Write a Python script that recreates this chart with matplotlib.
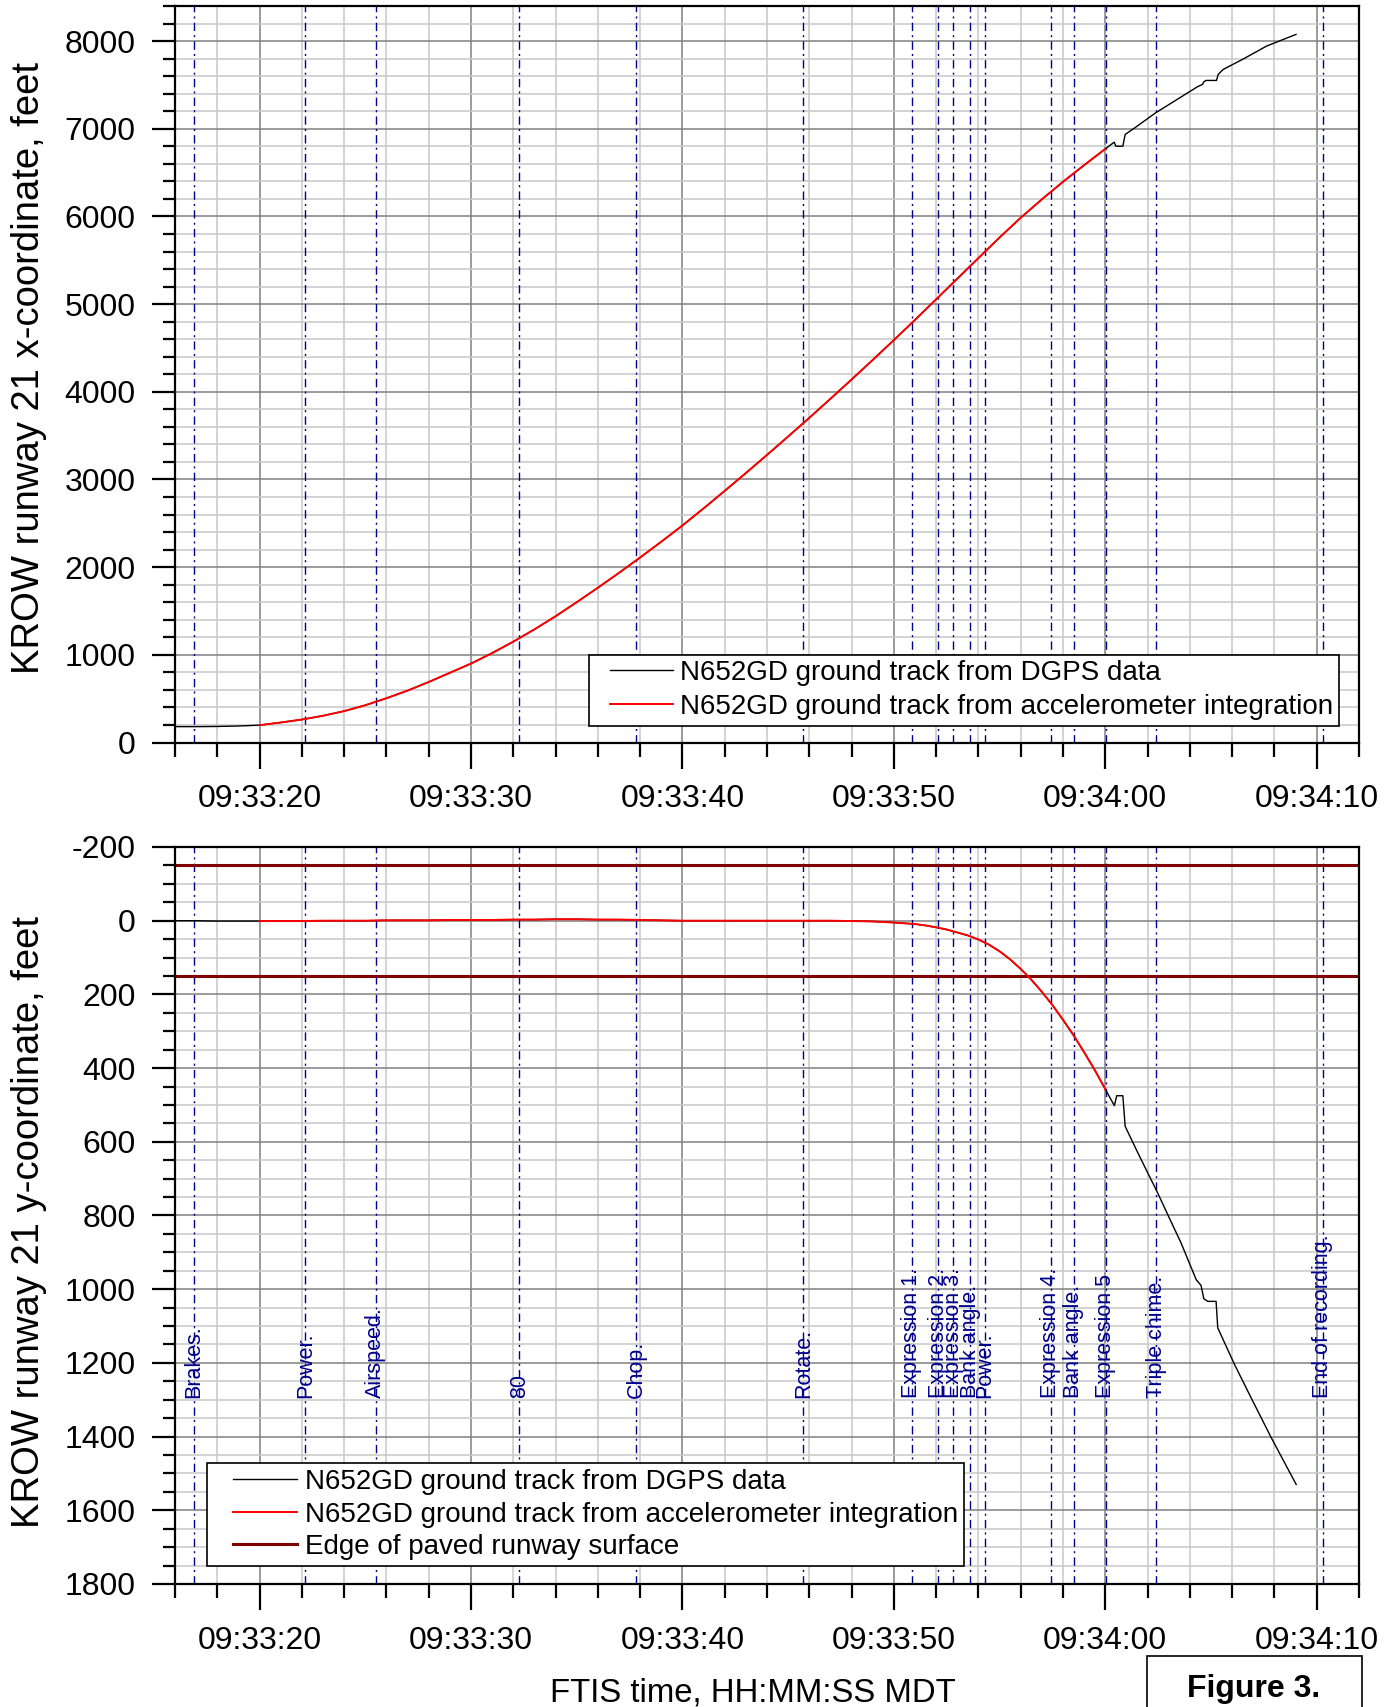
import matplotlib
matplotlib.use("Agg")
import matplotlib.pyplot as plt
from matplotlib.ticker import MultipleLocator, FuncFormatter
from matplotlib.legend_handler import HandlerLine2D
from matplotlib.lines import Line2D
from matplotlib.patches import Rectangle

plt.rcParams['font.family'] = ['Liberation Sans', 'DejaVu Sans']
plt.rcParams['axes.unicode_minus'] = False

# time is in seconds after 09:33:00 MDT
# accelerometer integration, x-coordinate, one sample per second 09:33:20 .. 09:34:00
t_acc_x = list(range(20, 61))
x_acc = [198, 228, 262, 305, 358, 425, 505, 592, 690, 795,
         900, 1020, 1150, 1290, 1440, 1600, 1765, 1935, 2110, 2290,
         2475, 2670, 2870, 3073, 3280, 3490, 3703, 3920, 4140, 4363,
         4590, 4820, 5055, 5290, 5525, 5760, 5985, 6195, 6395, 6585,
         6770]

# accelerometer integration, y-coordinate (denser where the track turns)
t_acc_y = list(range(20, 50)) + [50, 50.5, 51, 51.5, 52, 52.5, 53, 53.5, 54, 54.5,
                                 55, 55.5, 56, 56.5, 57, 57.5, 58, 58.5, 59, 59.5, 60]
y_acc = [1, 1, 1, 0, 0, 0, -1, -1, -1, -2,
         -2, -2, -3, -3, -4, -4, -3, -3, -2, -1,
         0, 0, 0, 0, 0, 0, 0, 0, 1, 2,
         5, 7, 9, 13, 18, 24, 32, 40, 51, 65,
         83, 105, 131, 160, 193, 229, 269, 311, 357, 405, 457]

# DGPS track: before the integration starts, and after it ends
t_gps_pre = [16, 17, 18, 19]
x_gps_pre = [181, 181, 183, 188]
y_gps_pre = [0, 0, 1, 1]

t_gps_x_post = [60.42, 60.5, 60.83, 60.94, 61.4, 62.39, 64.36, 64.6, 64.65,
                64.76, 65.26, 65.34, 65.58, 66.49, 67.63, 69.02]
x_gps_post = [6847, 6801, 6801, 6935, 7011, 7183, 7479, 7506, 7532,
              7551, 7551, 7620, 7677, 7791, 7943, 8076]

t_gps_y_post = [60.19, 60.43, 60.54, 60.83, 60.94, 61.54, 62.48, 63.03, 63.58,
                64.3, 64.53, 64.66, 64.85, 65.24, 65.32, 66.11, 66.9, 67.85, 69.03]
y_gps_post = [477, 502, 475, 475, 558, 630, 739, 807, 874,
              974, 990, 1026, 1033, 1033, 1105, 1204, 1295, 1403, 1530]

runway_edges = [-150, 150]

event_times = [16.88, 22.17, 25.49, 32.29, 37.8, 45.72, 50.84, 52.1, 52.8,
               53.61, 54.31, 57.43, 58.5, 60.03, 62.4, 70.29]
event_labels = ['Brakes.', 'Power.', 'Airspeed.', '80', 'Chop.', 'Rotate.',
                'Expression 1.', 'Expression 2.', 'Expression 3.', 'Bank angle.',
                'Power.', 'Expression 4.', 'Bank angle.', 'Expression 5',
                'Triple chime.', 'End of recording.']

t_gps_x = t_gps_pre + t_acc_x + t_gps_x_post
x_gps = x_gps_pre + x_acc + x_gps_post
t_gps_y = t_gps_pre + t_acc_y + t_gps_y_post
y_gps = y_gps_pre + y_acc + y_gps_post

W, H = 1393, 1707
fig = plt.figure(figsize=(W / 100, H / 100), dpi=100)
ax1 = fig.add_axes([175 / W, 1 - 742.5 / H, 1184 / W, 736.5 / H])
ax2 = fig.add_axes([175 / W, 1 - 1584 / H, 1184 / W, 737 / H])

navy = '#00008B'
dash_dot = (0, (6, 3, 1.5, 3))


def time_label(s, pos):
    s = int(round(s))
    return "09:%02d:%02d" % (33 + s // 60, s % 60)


for ax in (ax1, ax2):
    ax.set_xlim(16, 72)
    ax.xaxis.set_major_locator(MultipleLocator(10))
    ax.xaxis.set_minor_locator(MultipleLocator(2))
    ax.xaxis.set_major_formatter(FuncFormatter(time_label))
    ax.set_axisbelow(True)
    ax.grid(which='major', color='#808080', linewidth=1.1)
    ax.grid(which='minor', color='#c8c8c8', linewidth=1.1)
    ax.tick_params(axis='x', which='major', direction='out', length=19,
                   width=1.6, pad=11, labelsize=23)
    ax.tick_params(axis='x', which='minor', direction='out', length=10, width=1.6)
    ax.tick_params(axis='y', which='major', direction='out', length=16.5,
                   width=1.6, pad=12, labelsize=23)
    ax.tick_params(axis='y', which='minor', direction='out', length=8.5, width=1.6)
    for sp in ax.spines.values():
        sp.set_linewidth(1.6)
    for t in event_times:
        ax.axvline(t, color=navy, linestyle=dash_dot, linewidth=1.0, zorder=2)

# top panel: x-coordinate
ax1.plot(t_gps_x, x_gps, color='black', linewidth=1.0, zorder=3,
         label='N652GD ground track from DGPS data')
ax1.plot(t_acc_x, x_acc, color='red', linewidth=1.4, zorder=4,
         label='N652GD ground track from accelerometer integration')
ax1.set_ylim(0, 8400)
ax1.yaxis.set_major_locator(MultipleLocator(1000))
ax1.yaxis.set_minor_locator(MultipleLocator(200))
ax1.set_ylabel('KROW runway 21 x-coordinate, feet', fontsize=27.5)
ax1.yaxis.set_label_coords(-0.1084, 0.509)

leg1 = ax1.legend(loc='lower right', bbox_to_anchor=(0.983, 0.0228),
                  borderaxespad=0, fontsize=20, fancybox=False, framealpha=1,
                  borderpad=0.2, labelspacing=0.29, handlelength=2.825,
                  handletextpad=0.25,
                  handler_map={Line2D: HandlerLine2D(xpad=0.545)})
leg1.get_frame().set_edgecolor('black')
leg1.get_frame().set_linewidth(1.2)

# bottom panel: y-coordinate (inverted)
ax2.plot(t_gps_y, y_gps, color='black', linewidth=1.0, zorder=3,
         label='N652GD ground track from DGPS data')
ax2.plot(t_acc_y, y_acc, color='red', linewidth=1.4, zorder=4,
         label='N652GD ground track from accelerometer integration')
for i, e in enumerate(runway_edges):
    ax2.axhline(e, color='#800000', linewidth=2.2, zorder=2.5,
                label='Edge of paved runway surface' if i == 0 else None)
ax2.set_ylim(1800, -200)
ax2.yaxis.set_major_locator(MultipleLocator(200))
ax2.yaxis.set_minor_locator(MultipleLocator(50))
ax2.set_ylabel('KROW runway 21 y-coordinate, feet', fontsize=27.5)
ax2.yaxis.set_label_coords(-0.1084, 0.491)

for t, lab in zip(event_times, event_labels):
    ax2.text(t, 1294, lab, rotation=90, rotation_mode='anchor', ha='left',
             va='center', color=navy, fontsize=15.5, zorder=5)

leg2 = ax2.legend(loc='lower left', bbox_to_anchor=(0.0268, 0.0248),
                  borderaxespad=0, fontsize=20, fancybox=False, framealpha=1,
                  borderpad=0.2, labelspacing=0.24, handlelength=3.04,
                  handletextpad=0.3,
                  handler_map={Line2D: HandlerLine2D(xpad=0.756)})
leg2.get_frame().set_edgecolor('black')
leg2.get_frame().set_linewidth(1.2)
leg2.set_zorder(10)
leg1.set_zorder(10)

ax2.set_xlabel('FTIS time, HH:MM:SS MDT', fontsize=23.7)
ax2.xaxis.set_label_coords(0.488, -0.127)

# "Figure 3." tag in the lower right corner
fig.patches.append(Rectangle((1146.7 / W, 1 - 1730 / H), 215 / W, (1730 - 1656) / H,
                             transform=fig.transFigure, facecolor='white',
                             edgecolor='black', linewidth=1.2))
fig.text(1254 / W, 1 - 1696.5 / H, 'Figure 3.', ha='center', va='baseline',
         fontsize=23, fontweight='bold')

fig.savefig('out.png', dpi=100)
